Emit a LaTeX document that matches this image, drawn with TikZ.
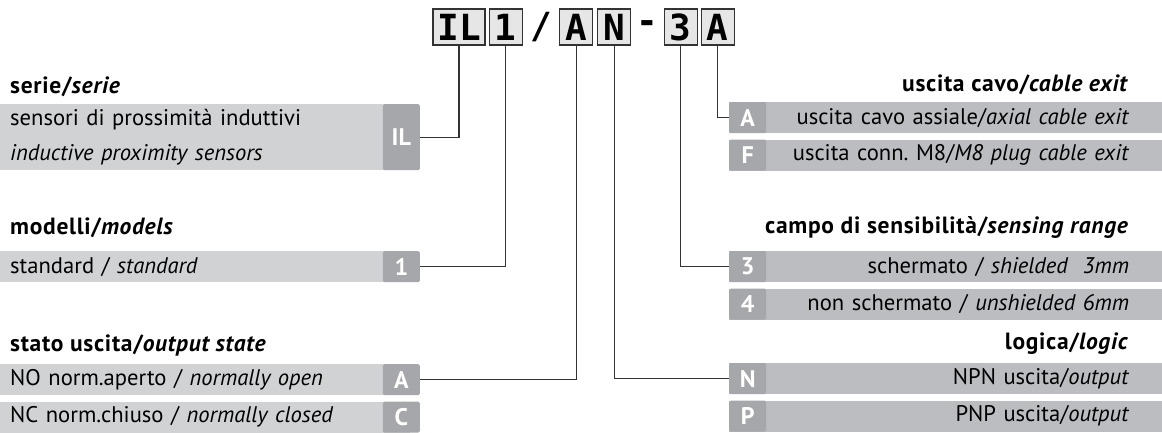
\documentclass[tikz,border=0pt]{standalone}
\usepackage{fontspec}
\setmainfont{PT Sans}
\newfontfamily\codefont{DejaVu Sans Mono}
\usetikzlibrary{positioning}
\frenchspacing
\definecolor{bandleft}{HTML}{D1D2D4}
\definecolor{bandright}{HTML}{BCBDC0}
\definecolor{taggray}{HTML}{A6A7AA}
\definecolor{codefill}{HTML}{E6E6E6}
\definecolor{wiregray}{HTML}{333333}
\newcommand{\txtsize}{\fontsize{22.6}{26}\selectfont}
\newcommand{\headsize}{\fontsize{23.5}{26}\selectfont\addfontfeatures{LetterSpace=3}}
\tikzstyle{codebox} = [draw=wiregray, fill=codefill, line width=1.1pt, minimum width=33, minimum height=36, inner sep=0pt, font=\codefont\bfseries\fontsize{36}{36}\selectfont]
\tikzstyle{codesep} = [minimum height=36, inner sep=0pt, font=\codefont\bfseries\fontsize{36}{36}\selectfont]
\tikzstyle{tagbox} = [fill=taggray, rounded corners=1.5pt, text=white, minimum width=37, minimum height=31, inner sep=0pt, font=\fontsize{24}{26}\selectfont\bfseries]
\tikzstyle{lband} = [fill=bandleft, text width=390, inner xsep=10pt, inner ysep=0pt, minimum height=31, align=left, font=\txtsize]
\tikzstyle{rband} = [fill=bandright, text width=367, inner xsep=33pt, inner ysep=0pt, minimum height=31, align=right, font=\txtsize]
\tikzstyle{heading} = [inner sep=0pt, font=\headsize\bfseries]
\tikzstyle{wire} = [draw=wiregray, line width=1.1pt]

\begin{document}
\begin{tikzpicture}[x=1pt, y=-1pt]
  \useasboundingbox (0,0) rectangle (1162,432);

  % code row
  \node[codebox, minimum width=52] (cIL) at (459,27) {IL};
  \node[codebox, right=3pt of cIL] (c1) {1};
  \node[codesep, minimum width=36, right=0pt of c1] (slash) {/};
  \node[codebox, right=0pt of slash] (cA) {A};
  \node[codebox, right=4pt of cA] (cN) {N};
  \node[codesep, minimum width=32, right=0pt of cN] (dash) {-};
  \node[codebox, right=0pt of dash] (c3) {3};
  \node[codebox, right=3pt of c3] (cX) {A};

  % left side
  \node[heading, anchor=west] (hSerie) at (10,87) {serie/\textit{serie}};
  \node[lband, minimum height=66, anchor=north west, font=\fontsize{22.6}{35}\selectfont] (bIL) at (0,104)
    {sensori di prossimità induttivi\\ \textit{inductive proximity sensors}};
  \node[tagbox, minimum height=66, anchor=north east] (tIL) at (420,104) {IL};

  \node[heading, anchor=west] (hModel) at (10,228) {modelli/\textit{models}};
  \node[lband, anchor=north west] (bStd) at (0,251) {standard / \textit{standard}};
  \node[tagbox, anchor=north east] (t1) at (420,251) {1};

  \node[heading, anchor=west] (hState) at (10,345) {stato uscita/\textit{output state}};
  \node[lband, anchor=north west] (bNO) at (0,364) {NO norm.aperto / \textit{normally open}};
  \node[lband, below=6pt of bNO] (bNC) {NC norm.chiuso / \textit{normally closed}};
  \node[tagbox, anchor=north east] (tNO) at (420,364) {A};
  \node[tagbox, below=6pt of tNO] (tNC) {C};

  % right side
  \node[heading, anchor=east] (hExit) at (1129,85) {uscita cavo/\textit{cable exit}};
  \node[rband, anchor=north west] (bAx) at (729,102) {uscita cavo assiale/\textit{axial cable exit}};
  \node[rband, below=6pt of bAx] (bF) {uscita conn. M8/\textit{M8 plug cable exit}};
  \node[tagbox, anchor=north west] (tAx) at (729,102) {A};
  \node[tagbox, below=6pt of tAx] (tF) {F};

  \node[heading, anchor=east] (hRange) at (1129,228) {campo di sensibilità/\textit{sensing range}};
  \node[rband, anchor=north west] (b3) at (729,251) {schermato / \textit{shielded~\ 3mm}};
  \node[rband, below=6pt of b3] (b4) {non schermato / \textit{unshielded 6mm}};
  \node[tagbox, anchor=north west] (t3) at (729,251) {3};
  \node[tagbox, below=6pt of t3] (t4) {4};

  \node[heading, anchor=east] (hLogic) at (1129,344) {logica/\textit{logic}};
  \node[rband, anchor=north west] (bN) at (729,363) {NPN uscita/\textit{output}};
  \node[rband, below=6pt of bN] (bP) {PNP uscita/\textit{output}};
  \node[tagbox, anchor=north west] (tN) at (729,363) {N};
  \node[tagbox, below=6pt of tN] (tP) {P};

  % connectors
  \draw[wire] (cIL.south) |- (tIL.east);
  \draw[wire] (c1.south) |- (t1.east);
  \draw[wire] (cA.south) |- (tNO.east);
  \draw[wire] (cN.south) |- (tN.west);
  \draw[wire] (c3.south) |- (t3.west);
  \draw[wire] (cX.south) |- (tAx.west);
\end{tikzpicture}
\end{document}
